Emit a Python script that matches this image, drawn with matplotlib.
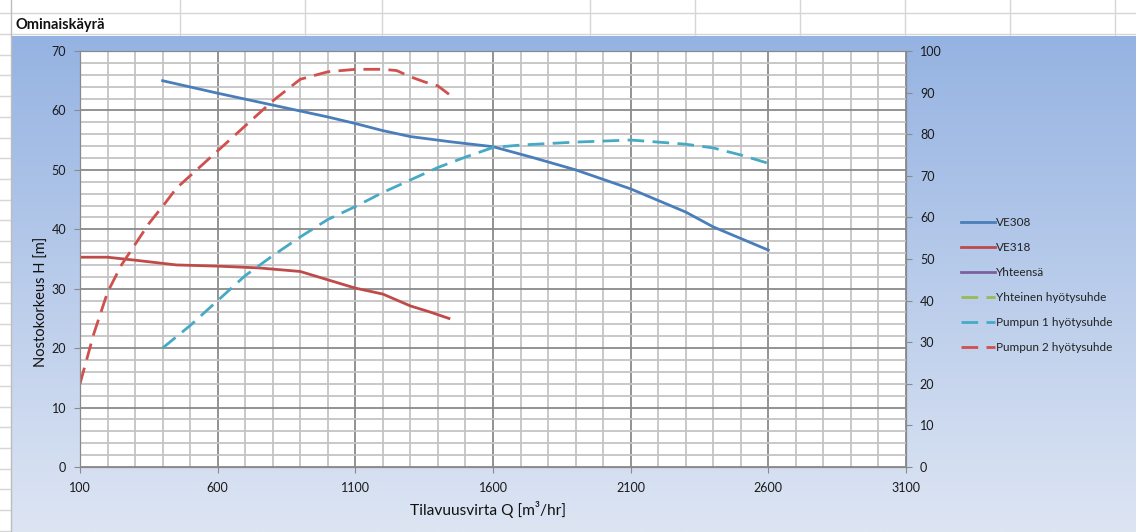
import numpy as np
import matplotlib
matplotlib.use("Agg")
import matplotlib.pyplot as plt
from matplotlib.ticker import MultipleLocator

plt.rcParams['font.family'] = ['Lato', 'DejaVu Sans']

# Tilavuusvirta Q [m3/hr] ja nostokorkeus H [m]
q_ve308 = [400, 600, 800, 1000, 1100, 1200, 1300, 1450, 1600, 1750, 1900, 2100, 2300, 2400, 2600]
h_ve308 = [65.0, 62.9, 60.9, 58.9, 57.8, 56.6, 55.6, 54.7, 53.9, 52.0, 50.0, 46.8, 42.9, 40.4, 36.5]

q_ve318 = [100, 200, 300, 450, 600, 750, 900, 1000, 1100, 1200, 1300, 1370, 1440]
h_ve318 = [35.3, 35.3, 34.8, 34.0, 33.8, 33.5, 32.9, 31.5, 30.1, 29.1, 27.1, 26.1, 25.0]

# tyhjät sarjat (vain selitteessä)
q_yht, h_yht = [], []
q_yht_eta, eta_yht = [], []

# hyötysuhteet [%] (oikea akseli)
q_eta1 = [400, 500, 600, 700, 800, 900, 1000, 1100, 1200, 1300, 1400, 1500, 1600, 1700, 1900, 2100, 2300, 2400, 2500, 2600]
eta1 = [28.6, 34.0, 40.0, 46.0, 50.8, 55.3, 59.5, 62.6, 66.0, 69.0, 72.0, 74.5, 76.8, 77.4, 78.1, 78.6, 77.6, 76.7, 75.0, 73.0]

q_eta2 = [100, 150, 200, 250, 300, 350, 410, 450, 500, 600, 700, 800, 900, 1000, 1100, 1200, 1250, 1300, 1350, 1400, 1440]
eta2 = [20.0, 32.0, 42.0, 48.5, 53.5, 58.5, 63.5, 67.0, 70.0, 76.0, 82.0, 88.0, 93.2, 95.0, 95.6, 95.6, 95.3, 93.8, 92.6, 91.6, 89.6]

W, H = 1136, 532
fig = plt.figure(figsize=(W / 100, H / 100), dpi=100)

# taulukon tausta ja kaavion gradientti
bg = fig.add_axes([0, 0, 1, 1], zorder=-10)
bg.set_xlim(0, W)
bg.set_ylim(H, 0)
bg.axis('off')
top_c = np.array([0x95, 0xB3, 0xE2]) / 255
bot_c = np.array([0xDD, 0xE5, 0xF3]) / 255
t = np.linspace(0, 1, 256)[:, None]
grad = (top_c[None, :] * (1 - t) + bot_c[None, :] * t)[:, None, :]
bg.imshow(grad, extent=(11, W, H, 36), origin='upper', aspect='auto', zorder=1)
gc = '#D6D6D6'
for yy in [13.3, 34.0]:
    bg.plot([0, W], [yy, yy], color=gc, lw=1, zorder=0)
for k in range(2, 26):
    yy = 13.3 + 20.7 * k
    bg.plot([0, 11], [yy, yy], color=gc, lw=1, zorder=0)
for xx in [180, 305, 382, 590, 695, 800, 905, 1010, 1115]:
    bg.plot([xx, xx], [0, 35], color=gc, lw=1, zorder=0)
bg.plot([11, 11], [0, H], color='#BDBDBD', lw=1, zorder=2)
bg.text(15, 29, 'Ominaiskäyrä', fontsize=10.5, fontweight='bold', color='#111111', zorder=3)

# varsinainen kuvaaja
ax = fig.add_axes([80 / W, 1 - 467 / H, 826 / W, 416 / H])
ax.set_facecolor('white')
ax.set_xlim(100, 3100)
ax.set_ylim(0, 70)
ax.set_xticks(np.arange(100, 3101, 500))
ax.set_xticks(np.arange(100, 3101, 100), minor=True)
ax.yaxis.set_major_locator(MultipleLocator(10))
ax.yaxis.set_minor_locator(MultipleLocator(2))
ax.grid(which='minor', color='#C4C4C4', lw=1.3)
ax.grid(which='major', color='#8A8A8A', lw=1.3)
ax.set_axisbelow(True)
for s in ax.spines.values():
    s.set_color('#8A8A8A')
ax.tick_params(which='major', length=4, color='#8A8A8A', labelsize=9, labelcolor='#1A1A1A')
ax.tick_params(axis='x', pad=7)
ax.tick_params(axis='y', pad=6)
ax.tick_params(which='minor', length=0)

l1, = ax.plot(q_ve308, h_ve308, color='#4A7EBB', lw=2.0, label='VE308')
l2, = ax.plot(q_ve318, h_ve318, color='#BE4B48', lw=2.0, label='VE318')
l3, = ax.plot(q_yht, h_yht, color='#7D60A0', lw=2.0, label='Yhteensä')

ax2 = ax.twinx()
ax2.set_ylim(0, 100)
ax2.yaxis.set_major_locator(MultipleLocator(10))
ax2.tick_params(which='major', length=4, color='#8A8A8A', labelsize=9, labelcolor='#1A1A1A', pad=6)
for s in ax2.spines.values():
    s.set_color('#8A8A8A')
dash = (6, 3)
l4, = ax2.plot(q_yht_eta, eta_yht, color='#98B954', lw=2.0, dashes=dash, label='Yhteinen hyötysuhde')
l5, = ax2.plot(q_eta1, eta1, color='#46AAC5', lw=2.0, dashes=dash, label='Pumpun 1 hyötysuhde')
l6, = ax2.plot(q_eta2, eta2, color='#D0504D', lw=2.0, dashes=dash, label='Pumpun 2 hyötysuhde')

fig.text(42 / W, 1 - 302 / H, 'Nostokorkeus H [m]', rotation=90, fontsize=10.5,
         ha='center', va='center', color='#111111')
fig.text(488 / W, 1 - 509 / H, 'Tilavuusvirta Q [m³/hr]', fontsize=11.2,
         ha='center', va='center', color='#111111')

handles = [l1, l2, l3, l4, l5, l6]
fig.legend(handles, [h.get_label() for h in handles], loc='center left',
           bbox_to_anchor=(950 / W, 1 - 285 / H), frameon=False, fontsize=8.5,
           handlelength=2.9, handletextpad=0.1, labelspacing=1.18,
           labelcolor='#222222')

fig.savefig('out.png', dpi=100)
